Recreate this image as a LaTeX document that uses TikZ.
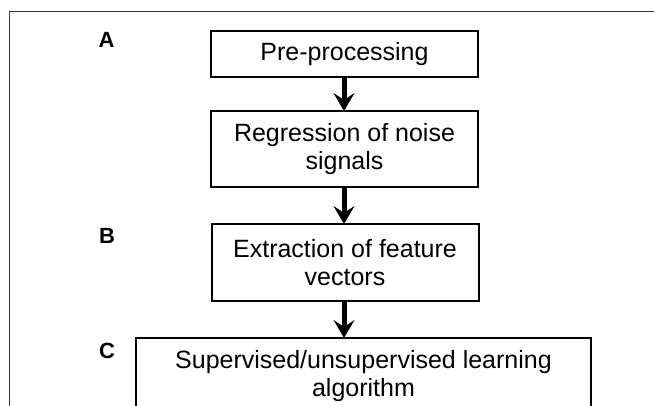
\documentclass[tikz,border=0pt]{standalone}
\usepackage{fontspec}
\setmainfont{Liberation Sans}
\usetikzlibrary{arrows.meta}
\begin{document}
\begin{tikzpicture}[x=1pt,y=1pt,
  stepbox/.style={draw=black, line width=2pt, align=center, inner sep=0pt,
    font=\fontsize{25}{28}\selectfont, minimum width=267pt},
  lab/.style={font=\fontsize{22}{24}\selectfont\bfseries, inner sep=0pt},
  flow/.style={line width=5pt, -{Stealth[length=18pt,width=21pt,inset=7pt]}, shorten >=-1pt}]
\useasboundingbox (0,0) rectangle (654,406);
\clip (0,0) rectangle (654,406);
% frame
\draw[line width=1pt, draw=black!80] (9.5,0) -- (9.5,394.5) -- (654,394.5);
% boxes (y = 406 - pixel y)
\node[stepbox, minimum height=46pt] (pre) at (344.5,352) {Pre-processing};
\node[stepbox, minimum height=76pt] (reg) at (344.5,257) {Regression of noise\\signals};
\node[stepbox, minimum height=77pt] (ext) at (345,143.5) {Extraction of feature\\vectors};
\node[stepbox, minimum height=77pt, minimum width=455pt] (alg) at (363.5,29.5) {Supervised/unsupervised learning\\algorithm};
% labels
\node[lab] (la) at (106.5,366.5) {A};
\node[lab] (lb) at (107,170) {B};
\node[lab] (lc) at (107,55.5) {C};
% arrows
\draw[flow] (pre.south -| 344,0) -- (reg.north -| 344,0);
\draw[flow] (reg.south -| 344,0) -- (ext.north -| 344,0);
\draw[flow] (ext.south -| 344,0) -- (alg.north -| 344,0);
\end{tikzpicture}
\end{document}
